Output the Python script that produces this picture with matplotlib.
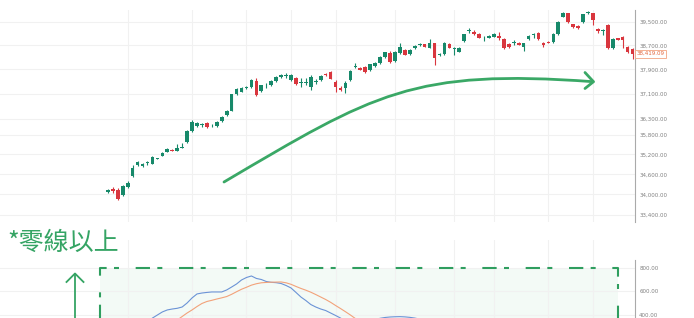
import matplotlib
matplotlib.use('Agg')
import matplotlib.pyplot as plt
from matplotlib.patches import Rectangle, PathPatch
from matplotlib.path import Path
from matplotlib.ticker import NullLocator

plt.rcParams['lines.scale_dashes'] = False

# daily candles
opens = [34070, 34168, 34138, 33990, 34218, 34554, 34885, 34846, 34937, 34915,
         35076, 35168, 35280, 35351, 35311, 35406, 35578, 35918, 36074, 36115,
         36178, 36100, 36074, 36241, 36420, 36566, 37099, 37174, 37295, 37315,
         37519, 37187, 37375, 37380, 37519, 37640, 37690, 37552, 37627, 37450,
         37465, 37315, 37490, 37552, 37758, 37813, 37496, 37292, 37282, 37552,
         37967, 37956, 37977, 37869, 38010, 38109, 38308, 38452, 38166, 38442,
         38542, 38398, 38599, 38705, 38732, 38619, 38766, 38365, 38398, 38743,
         38570, 38485, 38844, 39180, 39160, 39081, 38965, 38958, 38992, 39025,
         38912, 38732, 38780, 38786, 38642, 38902, 39040, 39126, 38790, 38810,
         38810, 39068, 39672, 39790, 39411, 39352, 39480, 39790, 39790, 39251,
         39190, 39387, 38599, 38935, 38980, 38642, 38575]
highs = [34168, 34212, 34182, 34286, 34384, 34885, 35016, 34946, 35016, 35158,
         35098, 35280, 35403, 35372, 35517, 35548, 35959, 36256, 36210, 36168,
         36210, 36150, 36240, 36400, 36600, 37110, 37290, 37330, 37340, 37594,
         37605, 37400, 37462, 37550, 37670, 37748, 37770, 37740, 37660, 37605,
         37605, 37715, 37585, 37730, 37780, 37840, 37552, 37357, 37519, 37880,
         38099, 37990, 38000, 38090, 38140, 38340, 38490, 38500, 38500, 38786,
         38560, 38560, 38700, 38760, 38750, 38905, 38790, 38440, 38800, 38770,
         38642, 38640, 39090, 39290, 39200, 39100, 39010, 39060, 39110, 39140,
         38940, 38760, 38870, 38800, 38790, 39050, 39120, 39150, 38810, 38830,
         39110, 39530, 39820, 39800, 39430, 39370, 39780, 39870, 39800, 39270,
         39250, 39410, 38930, 38950, 39000, 38670, 38600]
lows = [34034, 34049, 33843, 33960, 34197, 34533, 34864, 34815, 34885, 34900,
        35052, 35143, 35265, 35300, 35296, 35403, 35560, 35900, 36050, 36062,
        36020, 36060, 36050, 36220, 36400, 36540, 37080, 37150, 37270, 37300,
        37035, 37170, 37302, 37360, 37500, 37630, 37605, 37530, 37400, 37334,
        37389, 37228, 37420, 37530, 37690, 37570, 37174, 37196, 37120, 37530,
        37960, 37870, 37780, 37850, 37990, 38090, 38290, 38110, 38140, 38420,
        38360, 38380, 38580, 38670, 38640, 38600, 38043, 38340, 38380, 38600,
        38375, 38460, 38820, 39110, 39040, 38940, 38830, 38930, 38970, 38890,
        38570, 38620, 38710, 38700, 38509, 38880, 38935, 38890, 38642, 38760,
        38790, 39040, 39650, 39460, 39290, 39250, 39460, 39770, 39387, 39114,
        39047, 38570, 38580, 38870, 38610, 38440, 38240]
closes = [34138, 34088, 33864, 34256, 34325, 34803, 34976, 34924, 34967, 35128,
          35080, 35259, 35372, 35321, 35403, 35412, 35928, 36219, 36178, 36125,
          36043, 36110, 36210, 36367, 36566, 37089, 37250, 37302, 37305, 37542,
          37077, 37380, 37385, 37519, 37640, 37715, 37700, 37715, 37421, 37460,
          37475, 37660, 37500, 37692, 37705, 37594, 37334, 37228, 37464, 37856,
          38010, 37890, 37803, 38066, 38119, 38318, 38465, 38143, 38475, 38642,
          38382, 38532, 38677, 38715, 38652, 38790, 38266, 38408, 38766, 38619,
          38580, 38619, 39068, 39190, 39068, 38958, 38975, 39025, 39081, 38958,
          38599, 38652, 38790, 38719, 38766, 39025, 39050, 38912, 38700, 38780,
          39091, 39500, 39790, 39480, 39308, 39274, 39755, 39845, 39559, 39182,
          39195, 38599, 38912, 38890, 38890, 38465, 38419]
last_price = 38419.09
price_ticks = [33400, 34000, 34600, 35200, 35800, 36300, 37100, 37900, 38700, 39500]

# MACD lines in the lower pane (only the part above 400 is visible)
dif_start = 8
dif = [340, 374, 400, 426, 443, 451, 457, 468, 502, 545, 579, 587, 592, 596, 596,
       596, 613, 638, 664, 698, 719, 732, 711, 702, 685, 678, 675, 668, 651, 630,
       592, 553, 523, 489, 468, 451, 438, 417, 396, 374, 349, 335, 328, 330, 338,
       350, 362, 372, 379, 383, 385, 386, 384, 380, 374, 365, 355, 345]
dea_start = 13
dea = [332, 357, 387, 417, 443, 472, 498, 515, 525, 536, 546, 557, 576, 598, 619,
       636, 654, 666, 674, 677, 679, 680, 681, 674, 661, 643, 626, 611, 594, 574,
       553, 532, 508, 481, 455, 428, 400, 370, 340]
macd_ticks = [400, 600, 800]

grid_idx = [4, 17, 28, 37, 46, 58, 70, 78, 89, 98]
note = '*零線以上'

UP = '#17896a'
DOWN = '#d9363e'
GREEN = '#35a464'
W, H = 694, 318
fig = plt.figure(figsize=(W / 100, H / 100), dpi=100)


def rect(x0, y0, x1, y1):
    return [x0 / W, 1 - y1 / H, (x1 - x0) / W, (y1 - y0) / H]


# ---- price pane
ax = fig.add_axes(rect(0, 10, 635, 222))
ax.set_yscale('log')
ax.set_xlim(-21.8, 106.5)
ax.set_ylim(33196, 39903)
for i in range(len(opens)):
    o, h, l, c = opens[i], highs[i], lows[i], closes[i]
    col = UP if c >= o else DOWN
    ax.vlines(i, l, h, color=col, lw=0.8, zorder=2, clip_on=False)
    ax.bar(i, max(abs(c - o), 25), bottom=min(o, c), width=0.74,
           color=col, lw=0, zorder=3, clip_on=False)

ax.set_yticks(price_ticks)
ax.set_yticklabels([f'{v:,.2f}' for v in price_ticks])
ax.yaxis.set_minor_locator(NullLocator())
ax.set_xticks(grid_idx)
ax.set_xticklabels([])
ax.grid(True, color='#f1f1f1', lw=0.8, zorder=0)
ax.tick_params(axis='y', which='both', left=False, right=True, labelleft=False,
               labelright=True, length=0, pad=3, labelsize=4, labelcolor='#808080')
ax.tick_params(axis='x', length=0)
for s in ['top', 'left', 'bottom']:
    ax.spines[s].set_visible(False)
ax.spines['right'].set_color('#aaaaaa')
ax.spines['right'].set_linewidth(0.8)
ax.text(1.002, last_price, f'{last_price:,.2f}', transform=ax.get_yaxis_transform(),
        ha='left', va='center', fontsize=4, color='#e2673f',
        bbox=dict(boxstyle='square,pad=0.25', fc='white', ec='#f2a481', lw=0.6))

# ---- MACD pane
ax2 = fig.add_axes(rect(0, 240, 635, 318))
ax2.set_xlim(-21.8, 106.5)
ax2.set_ylim(374.5, 1038)
ax2.plot(range(dif_start, dif_start + len(dif)), dif, color='#6b93d6', lw=0.8, zorder=3)
ax2.plot(range(dea_start, dea_start + len(dea)), dea, color='#f2a27a', lw=0.8, zorder=3)
ax2.set_yticks(macd_ticks)
ax2.set_yticklabels([f'{v:.2f}' for v in macd_ticks])
ax2.set_xticks(grid_idx)
ax2.set_xticklabels([])
ax2.grid(True, color='#f1f1f1', lw=0.8, zorder=0)
ax2.tick_params(axis='y', left=False, right=True, labelleft=False, labelright=True,
                length=0, pad=3, labelsize=4, labelcolor='#808080')
ax2.tick_params(axis='x', length=0)
for s in ['top', 'left', 'bottom']:
    ax2.spines[s].set_visible(False)
ax2.spines['right'].set_color('#aaaaaa')
ax2.spines['right'].set_linewidth(0.8)
ax2.spines['right'].set_bounds(374.5, 868)

# ---- hand-drawn annotations (pixel coordinates)
ov = fig.add_axes([0, 0, 1, 1], zorder=5)
ov.set_xlim(0, W)
ov.set_ylim(H, 0)
ov.axis('off')
ov.patch.set_alpha(0)

ax2.add_patch(Rectangle((100, 268), 518, 60, transform=ov.transData,
                        fc='#eaf7ef', ec='none', alpha=0.55, zorder=1))
ov.plot([100, 100, 618, 618], [322, 268, 268, 322], color='#2f9e5f', lw=1.5,
        ls=(0, (10.3, 5.3, 3.6, 12.0)), solid_capstyle='butt')

# up arrow
ov.plot([75, 75], [320, 274], color=GREEN, lw=1.3)
ov.plot([66.5, 75, 83.5], [282, 273.5, 282], color=GREEN, lw=1.3)

# curved arrow in price pane
verts = [(224, 182), (374, 93.5), (413, 68.6), (593, 81.7)]
codes = [Path.MOVETO, Path.CURVE4, Path.CURVE4, Path.CURVE4]
ov.add_patch(PathPatch(Path(verts, codes), fc='none', ec='#3aa866', lw=2.0,
                       capstyle='round'))
ov.plot([585, 593.5, 585], [72.5, 81.7, 88.5], color='#3aa866', lw=2.0,
        solid_capstyle='round', solid_joinstyle='round')

ov.text(7, 243, note, fontsize=18, color=GREEN, ha='left', va='center',
        fontweight='medium', family=['Noto Sans CJK TC', 'DejaVu Sans'])

fig.savefig('out.png', dpi=100)
